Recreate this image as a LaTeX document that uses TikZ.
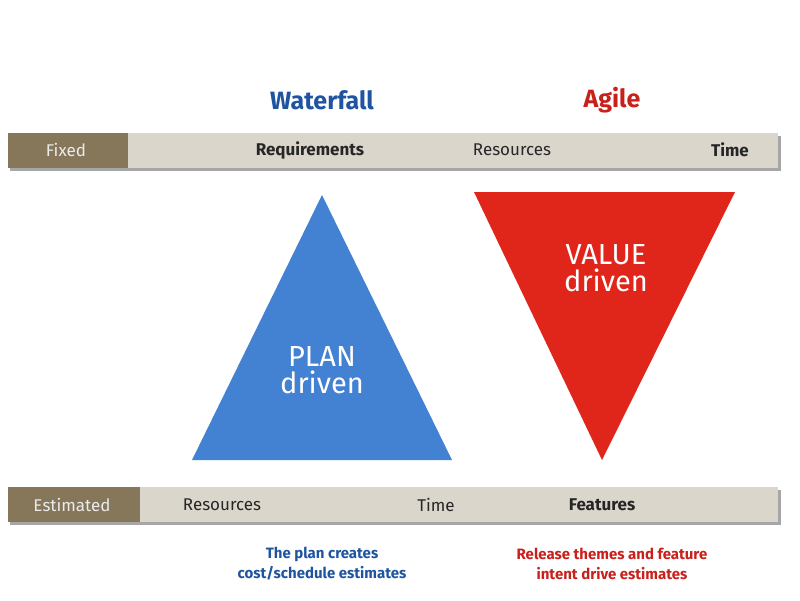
\documentclass[tikz,border=0pt]{standalone}
\usepackage{fontspec}
\setmainfont{Fira Sans}
\usetikzlibrary{positioning}
\definecolor{barlight}{HTML}{DAD6CB}
\definecolor{bardark}{HTML}{86775B}
\definecolor{wfblue}{HTML}{1F54A0}
\definecolor{agred}{HTML}{C8201B}
\definecolor{triblue}{HTML}{4381D2}
\definecolor{trired}{HTML}{E0261B}
\tikzset{
    bartext/.style={font=\fontsize{17}{19}\selectfont, text=black!85},
    boldbar/.style={font=\bfseries\fontsize{17}{19}\selectfont, text=black!85},
    tagtext/.style={font=\fontsize{17}{19}\selectfont, text=white!92!black},
    tritext/.style={font=\fontsize{29}{31}\selectfont, text=white, align=center},
    note/.style={font=\bfseries\fontsize{15}{20}\selectfont, align=center}
}
\begin{document}
\begin{tikzpicture}[x=1pt,y=-1pt]
    \useasboundingbox[fill=white] (0,0) rectangle (800,600);
    % bars
    \fill[black!35] (10,136) rectangle (781,171);
    \fill[barlight] (8,133) rectangle (778,168);
    \fill[bardark] (8,133) rectangle (128,168);
    \fill[black!35] (10,490) rectangle (781,525);
    \fill[barlight] (8,487) rectangle (778,522);
    \fill[bardark] (8,487) rectangle (140,522);
    % headings
    \node[font=\bfseries\fontsize{25}{27}\selectfont, text=wfblue] (wf) at (322,100) {Waterfall};
    \node[font=\bfseries\fontsize{25}{27}\selectfont, text=agred] (ag) at (612,100) {Agile};
    % top bar
    \node[tagtext] (fixed) at (66,150) {Fixed};
    \node[boldbar] (req) at (310,150) {Requirements};
    \node[bartext] (res1) at (512,150) {Resources};
    \node[boldbar] (time1) at (730,150) {Time};
    % triangles
    \fill[triblue] (322,195) -- (452,460) -- (192,460) -- cycle;
    \fill[trired] (474,192) -- (735,192) -- (602,460) -- cycle;
    \node[tritext] (plan) at (322,370) {PLAN\\[-4pt]driven};
    \node[tritext] (value) at (606,268) {VALUE\\[-4pt]driven};
    % bottom bar
    \node[tagtext] (est) at (72,505) {Estimated};
    \node[bartext] (res2) at (222,505) {Resources};
    \node[bartext] (time2) at (436,505) {Time};
    \node[boldbar] (feat) at (602,505) {Features};
    % notes
    \node[note, text=wfblue] (wfnote) at (322,564) {The plan creates\\cost/schedule estimates};
    \node[note, text=agred] (agnote) at (612,564) {Release themes and feature\\intent drive estimates};
\end{tikzpicture}
\end{document}
